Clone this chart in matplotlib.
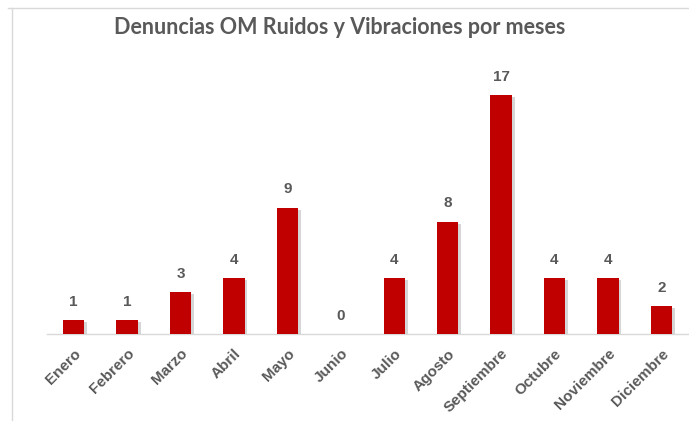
import numpy as np
import matplotlib.pyplot as plt
import matplotlib.patheffects as pe
from matplotlib.lines import Line2D

# datos por mes
meses = ["Enero", "Febrero", "Marzo", "Abril", "Mayo", "Junio", "Julio",
         "Agosto", "Septiembre", "Octubre", "Noviembre", "Diciembre"]
denuncias = [1, 1, 3, 4, 9, 0, 4, 8, 17, 4, 4, 2]

gris = "#595959"
rojo = "#C00000"

fig = plt.figure(figsize=(6.89, 4.21), dpi=100)
ax = fig.add_axes([47/689, 87/421, 641/689, 267/421])

x = np.arange(len(meses))
barras = ax.bar(x, denuncias, width=0.4, color=rojo, zorder=3)
for b in barras:
    b.set_path_effects([pe.SimplePatchShadow(offset=(2, -1.5), shadow_rgbFace="#999999", alpha=0.4),
                        pe.Normal()])

for xi, v in zip(x, denuncias):
    ax.annotate(str(v), (xi, v), xytext=(0, 8), textcoords="offset points",
                ha="center", va="bottom", fontsize=11, fontweight="bold",
                color=gris, family="Liberation Sans")

ax.set_xlim(-0.5, len(meses) - 0.5)
ax.set_ylim(0, 19)
ax.set_xticks(x)
ax.set_xticklabels(meses, rotation=45, ha="right", rotation_mode="anchor",
                   fontsize=11, fontweight="bold", color=gris, family="Liberation Sans")
ax.tick_params(axis="x", length=0, pad=9)
ax.set_yticks([])
for s in ["top", "right", "left"]:
    ax.spines[s].set_visible(False)
ax.spines["bottom"].set_color("#D9D9D9")
ax.spines["bottom"].set_linewidth(1)

fig.text(340/689, 1 - 28/421, "Denuncias OM Ruidos y Vibraciones por meses",
         ha="center", va="center", fontsize=15.5, fontweight="bold",
         color=gris, family="Lato")

# marco del gráfico
fig.add_artist(Line2D([12/689, 12/689], [0, 1 - 8/421], color="#D9D9D9", lw=1))
fig.add_artist(Line2D([8/689, 1], [1 - 8/421, 1 - 8/421], color="#D9D9D9", lw=1))

fig.savefig("out.png", dpi=100)
